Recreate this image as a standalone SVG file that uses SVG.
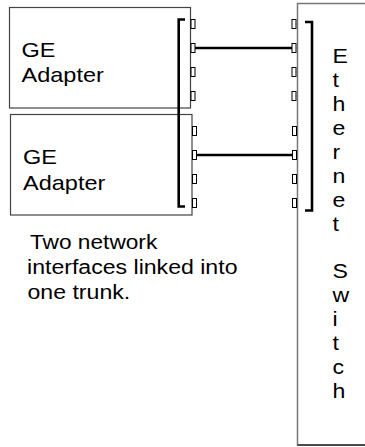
<svg xmlns="http://www.w3.org/2000/svg" width="365" height="447" viewBox="0 0 365 447">
<style>
.box{fill:#fff;stroke:#444;stroke-width:1.2}
.sw{fill:#fff;stroke:#777;stroke-width:1.5}
.port{fill:#fff;stroke:#000;stroke-width:1}
.br{fill:none;stroke:#000;stroke-width:2.6;stroke-linejoin:miter}
.link{stroke:#000;stroke-width:2.6}
text{font-family:"Liberation Sans",Arial,sans-serif;font-size:21px;fill:#000}
</style>
<rect width="365" height="447" fill="#fff"/>
<g id="switch">
<rect class="sw" x="297.5" y="3.5" width="80" height="441.5"/>
<line x1="297.5" y1="445" x2="365" y2="445" stroke="#333" stroke-width="1.5"/>
<rect class="port" x="292" y="19.5" width="4" height="9"/>
<rect class="port" x="292" y="43.5" width="4" height="9"/>
<rect class="port" x="292" y="67.5" width="4" height="9"/>
<rect class="port" x="292" y="91.5" width="4" height="9"/>
<rect class="port" x="292.5" y="126.5" width="4" height="9"/>
<rect class="port" x="292.5" y="150.5" width="4" height="9"/>
<rect class="port" x="292.5" y="174.5" width="4" height="9"/>
<rect class="port" x="292.5" y="198.5" width="4" height="9"/>
<path class="br" d="M305,22 H312 V210.5 H305"/>
<text transform="translate(332.5,63.3) scale(1.1,1)">E</text>
<text transform="translate(332.5,87.2) scale(1.1,1)">t</text>
<text transform="translate(332.5,111.1) scale(1.1,1)">h</text>
<text transform="translate(332.5,135) scale(1.1,1)">e</text>
<text transform="translate(332.5,158.9) scale(1.1,1)">r</text>
<text transform="translate(332.5,182.8) scale(1.1,1)">n</text>
<text transform="translate(332.5,206.7) scale(1.1,1)">e</text>
<text transform="translate(332.5,230.6) scale(1.1,1)">t</text>
<text transform="translate(332.5,278.4) scale(1.1,1)">S</text>
<text transform="translate(332.5,302.3) scale(1.1,1)">w</text>
<text transform="translate(332.5,326.2) scale(1.1,1)">i</text>
<text transform="translate(332.5,350.1) scale(1.1,1)">t</text>
<text transform="translate(332.5,374) scale(1.1,1)">c</text>
<text transform="translate(332.5,397.9) scale(1.1,1)">h</text>
</g>
<g id="adapter1">
<rect class="box" x="9.5" y="7.5" width="181" height="100.5"/>
<rect class="port" x="191" y="19.5" width="4" height="9"/>
<rect class="port" x="191" y="43.5" width="4" height="9"/>
<rect class="port" x="191" y="67.5" width="4" height="9"/>
<rect class="port" x="191" y="91.5" width="4" height="9"/>
<text transform="translate(21.5,56.5) scale(1.12,1)">GE</text>
<text transform="translate(21.5,81.5) scale(1.12,1)">Adapter</text>
</g>
<g id="adapter2">
<rect class="box" x="10.5" y="114.5" width="181.5" height="100.5"/>
<rect class="port" x="192.5" y="126.5" width="4" height="9"/>
<rect class="port" x="192.5" y="150.5" width="4" height="9"/>
<rect class="port" x="192.5" y="174.5" width="4" height="9"/>
<rect class="port" x="192.5" y="198.5" width="4" height="9"/>
<text transform="translate(23,163.5) scale(1.12,1)">GE</text>
<text transform="translate(23,189.5) scale(1.12,1)">Adapter</text>
</g>
<g id="trunk">
<path class="br" d="M185,19.5 H178.7 V206.5 H185"/>
</g>
<g id="connectors">
<line class="link" x1="195" y1="48" x2="292" y2="48"/>
<line class="link" x1="196.5" y1="155" x2="292.5" y2="155"/>
</g>
<g id="caption">
<text transform="translate(30,248.5) scale(1.08,1)">Two network</text>
<text transform="translate(27,273.5) scale(1.1,1)">interfaces linked into</text>
<text transform="translate(27.5,298.5) scale(1.1,1)">one trunk.</text>
</g>
</svg>
